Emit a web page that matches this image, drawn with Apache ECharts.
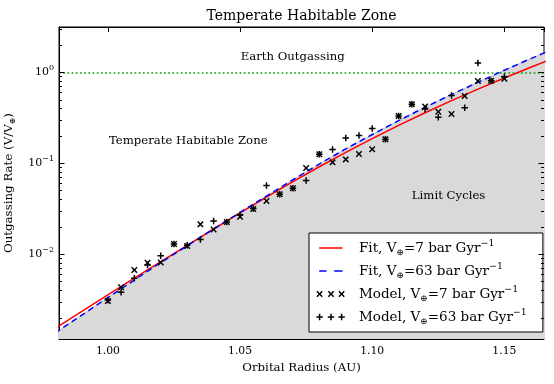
<!DOCTYPE html>
<html><head><meta charset="utf-8">
<script src="https://cdn.jsdelivr.net/npm/echarts@6/dist/echarts.min.js"></script>
<style>html,body{margin:0;padding:0;background:#fff}#c{width:554px;height:384px}</style>
</head><body><div id="c"></div>
<script>
// ---------------- data ----------------
const radii = [1.000,1.005,1.010,1.015,1.020,1.025,1.030,1.035,1.040,1.045,1.050,1.055,1.060,1.065,1.070,1.075,1.080,1.085,1.090,1.095,1.100,1.105,1.110,1.115,1.120,1.125,1.130,1.135,1.140,1.145,1.150];
const model7 = [0.00304,0.00430,0.00667,0.00802,0.00806,0.0129,0.01225,0.0212,0.0186,0.0225,0.0257,0.0313,0.0383,0.0455,0.0529,0.0885,0.125,0.102,0.110,0.126,0.142,0.183,0.330,0.446,0.420,0.368,0.347,0.548,0.802,0.806,0.848];
const model63 = [0.00312,0.00379,0.00540,0.00757,0.00958,0.0129,0.01247,0.01445,0.0231,0.0225,0.0269,0.0317,0.0568,0.0455,0.0529,0.0644,0.125,0.141,0.189,0.201,0.241,0.183,0.330,0.446,0.394,0.320,0.555,0.408,1.265,0.806,0.895];
const fitRadii = [0.98,0.99,1.00,1.01,1.02,1.03,1.04,1.05,1.06,1.07,1.08,1.09,1.10,1.11,1.12,1.13,1.14,1.15,1.16,1.17];
const fit7  = [0.001514,0.002317,0.003548,0.005414,0.008222,0.01247,0.01884,0.02828,0.04217,0.06254,0.0912,0.1314,0.1862,0.2603,0.3589,0.4870,0.6531,0.8660,1.135,1.479];
const fit63 = [0.001349,0.002113,0.003311,0.005170,0.008035,0.01233,0.01884,0.02868,0.04335,0.06564,0.09772,0.1434,0.2065,0.2935,0.4121,0.5681,0.7762,1.053,1.413,1.884];
const earthRate = 1;
const xTickLabels = ['1.00','1.05','1.10','1.15'];
const yTickExponents = [-2,-1,0];
const yMinorTicks = [0.002,0.003,0.004,0.005,0.006,0.007,0.008,0.009,0.02,0.03,0.04,0.05,0.06,0.07,0.08,0.09,0.2,0.3,0.4,0.5,0.6,0.7,0.8,0.9,2,3];
const annotations = [
  {text:'Earth Outgassing', x:1.0699, y:1.47},
  {text:'Temperate Habitable Zone', x:1.0304, y:0.175},
  {text:'Limit Cycles', x:1.1289, y:0.0438}
];
const names = ['Fit, V⊕=7 bar Gyr−1','Fit, V⊕=63 bar Gyr−1','Model, V⊕=7 bar Gyr−1','Model, V⊕=63 bar Gyr−1'];
const richNames = {
  'Fit, V⊕=7 bar Gyr−1':'{b|Fit, V}{sub|⊕}{b|=7 bar Gyr}{sup|−1}',
  'Fit, V⊕=63 bar Gyr−1':'{b|Fit, V}{sub|⊕}{b|=63 bar Gyr}{sup|−1}',
  'Model, V⊕=7 bar Gyr−1':'{b|Model, V}{sub|⊕}{b|=7 bar Gyr}{sup|−1}',
  'Model, V⊕=63 bar Gyr−1':'{b|Model, V}{sub|⊕}{b|=63 bar Gyr}{sup|−1}'
};

// ---------------- helpers ----------------
const FONT = 'DejaVu Serif';
function xShape(cx, cy, h, d){
  const p = [[-h,-h+d],[-h+d,-h],[0,-d],[h-d,-h],[h,-h+d],[d,0],[h,h-d],[h-d,h],[0,d],[-h+d,h],[-h,h-d],[-d,0]];
  return 'M' + p.map(q => (cx+q[0]).toFixed(3)+','+(cy+q[1]).toFixed(3)).join('L') + 'Z';
}
function plusShape(cx, cy, h, w){
  const p = [[-w,-h],[w,-h],[w,-w],[h,-w],[h,w],[w,w],[w,h],[-w,h],[-w,w],[-h,w],[-h,-w],[-w,-w]];
  return 'M' + p.map(q => (cx+q[0]).toFixed(3)+','+(cy+q[1]).toFixed(3)).join('L') + 'Z';
}
const xSymbol = 'path://' + xShape(5,5,5,1.6);
const plusSymbol = 'path://' + plusShape(5,5,5,1.15);
const iconRed = 'path://M0,0M42,10M7.2,4.25h23.3v1.5h-23.3z';
const iconBlue = 'path://M0,0M42,10M7.2,4.25h7.3v1.5h-7.3zM22.2,4.25h8.3v1.5h-8.3z';
const iconX = 'path://M0,0M42,10' + xShape(7.6,5,3.2,1.05) + xShape(19,5,3.2,1.05) + xShape(29.6,5,3.2,1.05);
const iconPlus = 'path://M0,0M42,10' + plusShape(7.6,5,3.2,0.75) + plusShape(19,5,3.2,0.75) + plusShape(29.6,5,3.2,0.75);

const supRich = {
  b: {fontFamily: FONT, fontSize: 11, lineHeight: 16, color: '#000', verticalAlign: 'middle'},
  sup: {fontFamily: FONT, fontSize: 8, lineHeight: 8, color: '#000', verticalAlign: 'top'}
};
const legendRich = {
  b: {fontFamily: FONT, fontSize: 13.5, lineHeight: 18, color: '#000', verticalAlign: 'middle'},
  sub: {fontFamily: FONT, fontSize: 9, lineHeight: 9, color: '#000', verticalAlign: 'bottom'},
  sup: {fontFamily: FONT, fontSize: 9.5, lineHeight: 9, color: '#000', verticalAlign: 'top'}
};
const nameRich = {
  b: {fontFamily: FONT, fontSize: 11.8, lineHeight: 16, color: '#000', verticalAlign: 'middle'},
  sub: {fontFamily: FONT, fontSize: 8, lineHeight: 8, color: '#000', verticalAlign: 'bottom'}
};

const pairs = (xs, ys) => xs.map((x, i) => [x, ys[i]]);
const tickData = yTickExponents.map(e => [1.0, Math.pow(10, e), 5.5]).concat(yMinorTicks.map(v => [1.0, v, 3]));

const chart = echarts.init(document.getElementById('c'), null, {renderer: 'canvas', width: 554, height: 384});
const axisLineStyle = {show: true, lineStyle: {color: '#000', width: 1}};
const option = {
  animation: false,
  backgroundColor: '#fff',
  grid: {left: 59, right: 10, top: 27, bottom: 45, show: true, borderColor: '#000', borderWidth: 1, backgroundColor: 'transparent', containLabel: false, outerBoundsMode: 'none'},
  xAxis: [{
    type: 'value', min: 0.9815, max: 1.165, splitNumber: 4, minInterval: 0.05, maxInterval: 0.05,
    position: 'bottom',
    axisLine: axisLineStyle,
    axisTick: {show: true, inside: true, length: 5, lineStyle: {color: '#000', width: 1}},
    axisLabel: {
      margin: 7, color: '#000', fontFamily: FONT, fontSize: 10.8,
      formatter: v => (xTickLabels.indexOf(v.toFixed(2)) >= 0 && Math.abs(v - parseFloat(v.toFixed(2))) < 1e-9) ? v.toFixed(2) : ''
    },
    splitLine: {show: false},
    name: 'Orbital Radius (AU)', nameLocation: 'middle', nameGap: 23,
    nameTextStyle: {color: '#000', fontFamily: FONT, fontSize: 11.8}
  }, {
    type: 'value', min: 0.9815, max: 1.165, splitNumber: 4, minInterval: 0.05, maxInterval: 0.05,
    position: 'top',
    axisLine: axisLineStyle,
    axisTick: {show: true, inside: true, length: 5, lineStyle: {color: '#000', width: 1}},
    axisLabel: {show: false},
    splitLine: {show: false}
  }],
  yAxis: [{
    type: 'log', logBase: 10, min: 0.00116, max: 3.15,
    axisLine: axisLineStyle,
    axisTick: {show: false},
    minorTick: {show: false},
    splitLine: {show: false},
    minorSplitLine: {show: false},
    axisLabel: {
      margin: 5, rich: supRich,
      formatter: v => {
        const l = Math.log10(v); const e = Math.round(l);
        if (Math.abs(l - e) < 1e-6 && yTickExponents.indexOf(e) >= 0) return '{b|10}{sup|' + (e < 0 ? '−' + (-e) : e) + '}';
        return '';
      }
    },
    name: '{b|Outgassing Rate (V/V}{sub|⊕}{b|)}', nameLocation: 'middle', nameGap: 35,
    nameTextStyle: {rich: nameRich}
  }],
  legend: {
    orient: 'vertical', left: 309, top: 233,
    data: [
      {name: names[0], icon: iconRed},
      {name: names[1], icon: iconBlue},
      {name: names[2], icon: iconX},
      {name: names[3], icon: iconPlus}
    ],
    itemWidth: 42, itemHeight: 10, itemGap: 5,
    padding: [6, 16, 6, 3],
    backgroundColor: '#fff', borderColor: '#000', borderWidth: 1, borderRadius: 0,
    selectedMode: false,
    itemStyle: {borderWidth: 0},
    formatter: n => richNames[n] || n,
    textStyle: {rich: legendRich, fontFamily: FONT, fontSize: 13.5, color: '#000'}
  },
  series: [
    {
      name: 'zone', type: 'line', data: pairs(fitRadii, fit63),
      symbol: 'none', z: 1, silent: true,
      lineStyle: {color: '#c4c4c4', width: 1},
      areaStyle: {color: '#d9d9d9', opacity: 1, origin: 'start'},
      markLine: {
        silent: true, symbol: ['none', 'none'], label: {show: false}, z: 2,
        lineStyle: {color: '#00a000', width: 1.7, type: [1.7, 2.5]},
        data: [{yAxis: earthRate}]
      }
    },
    {
      name: names[0], type: 'line', data: pairs(fitRadii, fit7),
      symbol: 'none', z: 3, color: '#ff0000',
      lineStyle: {color: '#ff0000', width: 1.5}, itemStyle: {color: '#ff0000'}
    },
    {
      name: names[1], type: 'line', data: pairs(fitRadii, fit63),
      symbol: 'none', z: 4, color: '#0000ff',
      lineStyle: {color: '#0000ff', width: 1.5, type: [6, 4]}, itemStyle: {color: '#0000ff'}
    },
    {
      name: names[2], type: 'scatter', data: pairs(radii, model7), symbol: xSymbol, symbolSize: 6.5,
      z: 6, itemStyle: {color: '#000', opacity: 1}, color: '#000'
    },
    {
      name: names[3], type: 'scatter', data: pairs(radii, model63), symbol: plusSymbol, symbolSize: 6.5,
      z: 6, itemStyle: {color: '#000', opacity: 1}, color: '#000'
    },
    {
      name: 'yticks', type: 'custom', data: tickData, z: 7, silent: true, clip: false,
      encode: {x: 0, y: 1},
      renderItem: (params, api) => {
        const cs = params.coordSys;
        const y = Math.round(api.coord([api.value(0), api.value(1)])[1]) + 0.5;
        const len = api.value(2);
        const st = {stroke: '#000', lineWidth: 1};
        return {type: 'group', children: [
          {type: 'line', shape: {x1: cs.x, y1: y, x2: cs.x + len, y2: y}, style: st},
          {type: 'line', shape: {x1: cs.x + cs.width - len, y1: y, x2: cs.x + cs.width, y2: y}, style: st}
        ]};
      }
    }
  ]
};
chart.setOption(option);

const gfx = [{
  type: 'text', x: 301.5, y: 16,
  style: {text: 'Temperate Habitable Zone', fontFamily: FONT, fontSize: 14, fill: '#000', align: 'center', verticalAlign: 'middle'}
}];
annotations.forEach(a => {
  const p = chart.convertToPixel({xAxisIndex: 0, yAxisIndex: 0}, [a.x, a.y]);
  gfx.push({type: 'text', x: p[0], y: p[1], z: 10,
    style: {text: a.text, fontFamily: FONT, fontSize: 11.7, fill: '#000', align: 'center', verticalAlign: 'middle'}});
});
chart.setOption({graphic: gfx});
</script>
</body></html>
